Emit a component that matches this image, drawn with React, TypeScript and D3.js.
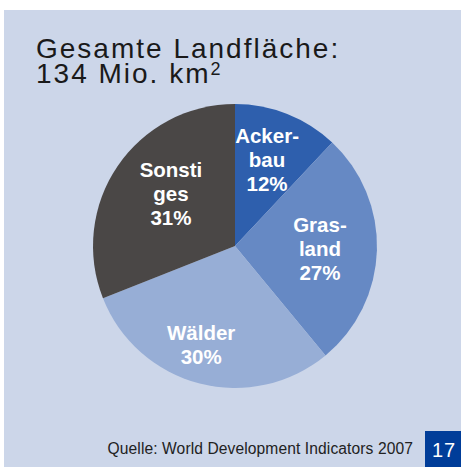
import React from "react";
import * as d3 from "d3";

const categories = ["Ackerbau", "Grasland", "Wälder", "Sonstiges"];
const values = [12, 27, 30, 31];
const labelLines = [
  ["Acker-", "bau", "12%"],
  ["Gras-", "land", "27%"],
  ["Wälder", "30%"],
  ["Sonsti", "ges", "31%"],
];
const colors = ["#2E5FAD", "#6689C4", "#97AED6", "#4A4746"];
const titleLines = ["Gesamte Landfläche:", "134 Mio. km"];
const sourceText = "Quelle: World Development Indicators 2007";
const pageNumber = "17";

const W = 461;
const H = 467;
const cx = 235;
const cy = 246;
const R = 142;
// label nudges relative to centroid (layout only)
const labelRadius = [92, 85, 105, 82.5];
const labelAngleShift = [-1.2, 0, 4.4, 4.9];

export default function App() {
  const pie = d3.pie<number>().sort(null).value((d) => d);
  const arcs = pie(values);
  const arc = d3.arc<d3.PieArcDatum<number>>().innerRadius(0).outerRadius(R);
  const font = "'Liberation Sans', Arial, Helvetica, sans-serif";
  const lh = 24;
  return (
    <svg
      width={W}
      height={H}
      style={{ position: "absolute", left: 0, top: 0 }}
      fontFamily={font}
    >
      <rect x={0} y={0} width={W} height={H} fill="#ffffff" />
      <rect x={4} y={10} width={W - 4} height={H - 10} fill="#CCD6E9" />
      <text fontSize={28} letterSpacing={2.0} fill="#1a1a1a">
        <tspan x={36} y={58}>{titleLines[0]}</tspan>
        <tspan x={36} y={83}>{titleLines[1]}</tspan>
        <tspan fontSize={18} dy={-8}>2</tspan>
      </text>
      <g transform={`translate(${cx},${cy})`}>
        {arcs.map((a, i) => (
          <path key={categories[i]} d={arc(a) || ""} fill={colors[i]} />
        ))}
        {arcs.map((a, i) => {
          const mid = (a.startAngle + a.endAngle) / 2 + (labelAngleShift[i] * Math.PI) / 180;
          const r = labelRadius[i];
          const x = Math.sin(mid) * r;
          const y = -Math.cos(mid) * r;
          const lines = labelLines[i];
          const y0 = y - ((lines.length - 1) * lh) / 2 + 7;
          return (
            <text
              key={"l" + i}
              textAnchor="middle"
              fontSize={20.5}
              fontWeight="bold"
              fill="#ffffff"
            >
              {lines.map((ln, j) => (
                <tspan key={j} x={x} y={y0 + j * lh}>
                  {ln}
                </tspan>
              ))}
            </text>
          );
        })}
      </g>
      <text x={413} y={454} fontSize={15.6} letterSpacing={0.1} textAnchor="end" fill="#222222">
        {sourceText}
      </text>
      <rect x={425} y={431} width={W - 425} height={H - 431} fill="#003D99" />
      <text x={444} y={457} fontSize={20} letterSpacing={1} textAnchor="middle" fill="#ffffff">
        {pageNumber}
      </text>
    </svg>
  );
}
